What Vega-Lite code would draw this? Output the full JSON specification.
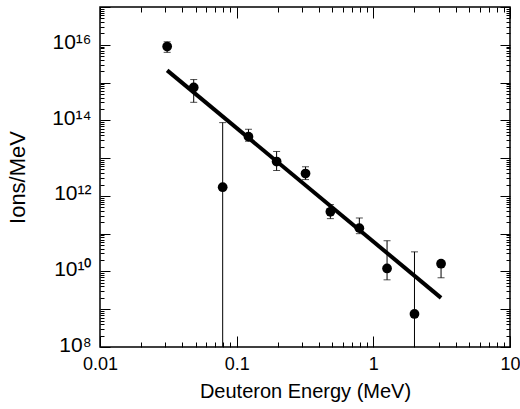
{
  "$schema": "https://vega.github.io/schema/vega-lite/v6.json",
  "width": 410,
  "height": 340,
  "autosize": "none",
  "padding": {"left": 100, "top": 7, "right": 10, "bottom": 62},
  "background": "white",
  "config": {
    "view": {"stroke": "black", "strokeWidth": 1.5},
    "axis": {
      "labelFont": "Liberation Sans",
      "titleFont": "Liberation Sans",
      "labelColor": "black",
      "titleColor": "black",
      "domain": false,
      "grid": false,
      "titleFontWeight": "normal"
    }
  },
  "datasets": {
    "pts": [
      {"E": 0.031, "N": 9e15, "lo": 6.3e15, "hi": 1.2e16},
      {"E": 0.0485, "N": 7.4e14, "lo": 3e14, "hi": 1.2e15},
      {"E": 0.079, "N": 1.7e12, "lo": 1e6, "hi": 8.7e13},
      {"E": 0.122, "N": 3.7e13, "lo": 2.8e13, "hi": 5.8e13},
      {"E": 0.196, "N": 8.1e12, "lo": 4.7e12, "hi": 1.5e13},
      {"E": 0.319, "N": 3.9e12, "lo": 2.7e12, "hi": 5.9e12},
      {"E": 0.485, "N": 3.8e11, "lo": 2.5e11, "hi": 5.9e11},
      {"E": 0.79, "N": 1.4e11, "lo": 1e11, "hi": 2.6e11},
      {"E": 1.26, "N": 1.2e10, "lo": 6e9, "hi": 6.5e10},
      {"E": 2.0, "N": 7.5e8, "lo": 1e6, "hi": 3.3e10},
      {"E": 3.13, "N": 1.6e10, "lo": 6.8e9, "hi": 1.6e10}
    ],
    "fit": [
      {"E": 0.031, "N": 2.1e15},
      {"E": 3.13, "N": 2e9}
    ]
  },
  "layer": [
    {
      "data": {"name": "pts"},
      "mark": {"type": "rule", "color": "black", "strokeWidth": 1, "clip": true},
      "encoding": {
        "x": {
          "field": "E", "type": "quantitative",
          "scale": {"type": "log", "domain": [0.01, 10]},
          "title": "Deuteron Energy (MeV)",
          "axis": {
            "orient": "bottom",
            "values": [0.01, 0.1, 1, 10],
            "format": "~g",
            "tickSize": 11,
            "tickColor": "black",
            "offset": -11,
            "labelFlush": false,
            "labelFontSize": 18,
            "labelPadding": 8,
            "titleFontSize": 20,
            "titlePadding": 8
          }
        },
        "y": {
          "field": "lo", "type": "quantitative",
          "scale": {"type": "log", "domain": [1e8, 1e17]},
          "title": "Ions/MeV",
          "axis": {
            "orient": "left",
            "values": [1e8, 1e10, 1e12, 1e14, 1e16],
            "tickSize": 10,
            "tickColor": "black",
            "offset": -10,
            "labelFlush": false,
            "labelExpr": "round(log(datum.value)/LN10) == 8 ? '10⁸' : round(log(datum.value)/LN10) == 10 ? '10¹⁰' : round(log(datum.value)/LN10) == 12 ? '10¹²' : round(log(datum.value)/LN10) == 14 ? '10¹⁴' : '10¹⁶'",
            "labelFontSize": 21,
            "labelPadding": 9,
            "labelBaseline": "bottom",
            "labelOffset": 8,
            "titleFontSize": 22,
            "titlePadding": 22
          }
        },
        "y2": {"field": "hi"}
      }
    },
    {
      "data": {"name": "pts"},
      "mark": {"type": "tick", "orient": "horizontal", "color": "black", "thickness": 1, "size": 7, "clip": true},
      "encoding": {
        "x": {
          "field": "E", "type": "quantitative", "scale": {"type": "log", "domain": [0.01, 10]},
          "axis": {"orient": "top", "labels": false, "title": null, "values": [0.01, 0.1, 1, 10], "tickSize": 11, "tickColor": "black", "offset": -11}
        },
        "y": {
          "field": "lo", "type": "quantitative", "scale": {"type": "log", "domain": [1e8, 1e17]},
          "axis": {"orient": "left", "labels": false, "title": null, "values": [1e9,1e11,1e13,1e15,1e17], "tickSize": 10, "tickColor": "black", "offset": -10}
        }
      }
    },
    {
      "data": {"name": "pts"},
      "mark": {"type": "tick", "orient": "horizontal", "color": "black", "thickness": 1, "size": 7, "clip": true},
      "encoding": {
        "x": {
          "field": "E", "type": "quantitative", "scale": {"type": "log", "domain": [0.01, 10]},
          "axis": {"orient": "bottom", "labels": false, "title": null, "values": [0.02,0.03,0.04,0.05,0.06,0.07,0.08,0.09,0.2,0.3,0.4,0.5,0.6,0.7,0.8,0.9,2,3,4,5,6,7,8,9], "tickSize": 5, "tickColor": "black", "offset": -5}
        },
        "y": {
          "field": "hi", "type": "quantitative", "scale": {"type": "log", "domain": [1e8, 1e17]},
          "axis": {"orient": "left", "labels": false, "title": null, "values": [2e8,3e8,4e8,5e8,6e8,7e8,8e8,9e8,2e9,3e9,4e9,5e9,6e9,7e9,8e9,9e9,2e10,3e10,4e10,5e10,6e10,7e10,8e10,9e10,2e11,3e11,4e11,5e11,6e11,7e11,8e11,9e11,2e12,3e12,4e12,5e12,6e12,7e12,8e12,9e12,2e13,3e13,4e13,5e13,6e13,7e13,8e13,9e13,2e14,3e14,4e14,5e14,6e14,7e14,8e14,9e14,2e15,3e15,4e15,5e15,6e15,7e15,8e15,9e15,2e16,3e16,4e16,5e16,6e16,7e16,8e16,9e16], "tickSize": 4, "tickColor": "black", "offset": -4}
        }
      }
    },
    {
      "data": {"name": "fit"},
      "mark": {"type": "line", "color": "black", "strokeWidth": 4},
      "encoding": {
        "x": {
          "field": "E", "type": "quantitative", "scale": {"type": "log", "domain": [0.01, 10]},
          "axis": {"orient": "top", "labels": false, "title": null, "values": [0.02,0.03,0.04,0.05,0.06,0.07,0.08,0.09,0.2,0.3,0.4,0.5,0.6,0.7,0.8,0.9,2,3,4,5,6,7,8,9], "tickSize": 5, "tickColor": "black", "offset": -5}
        },
        "y": {
          "field": "N", "type": "quantitative", "scale": {"type": "log", "domain": [1e8, 1e17]},
          "axis": {"orient": "right", "labels": false, "title": null, "values": [1e8,1e9,1e10,1e11,1e12,1e13,1e14,1e15,1e16,1e17], "tickSize": 10, "tickColor": "black", "offset": -10}
        }
      }
    },
    {
      "data": {"name": "pts"},
      "mark": {"type": "circle", "color": "black", "opacity": 1, "size": 95},
      "encoding": {
        "x": {"field": "E", "type": "quantitative", "scale": {"type": "log", "domain": [0.01, 10]}, "axis": null},
        "y": {
          "field": "N", "type": "quantitative", "scale": {"type": "log", "domain": [1e8, 1e17]},
          "axis": {"orient": "right", "labels": false, "title": null, "values": [2e8,3e8,4e8,5e8,6e8,7e8,8e8,9e8,2e9,3e9,4e9,5e9,6e9,7e9,8e9,9e9,2e10,3e10,4e10,5e10,6e10,7e10,8e10,9e10,2e11,3e11,4e11,5e11,6e11,7e11,8e11,9e11,2e12,3e12,4e12,5e12,6e12,7e12,8e12,9e12,2e13,3e13,4e13,5e13,6e13,7e13,8e13,9e13,2e14,3e14,4e14,5e14,6e14,7e14,8e14,9e14,2e15,3e15,4e15,5e15,6e15,7e15,8e15,9e15,2e16,3e16,4e16,5e16,6e16,7e16,8e16,9e16], "tickSize": 4, "tickColor": "black", "offset": -4}
        }
      }
    }
  ],
  "resolve": {"axis": {"x": "independent", "y": "independent"}}
}
